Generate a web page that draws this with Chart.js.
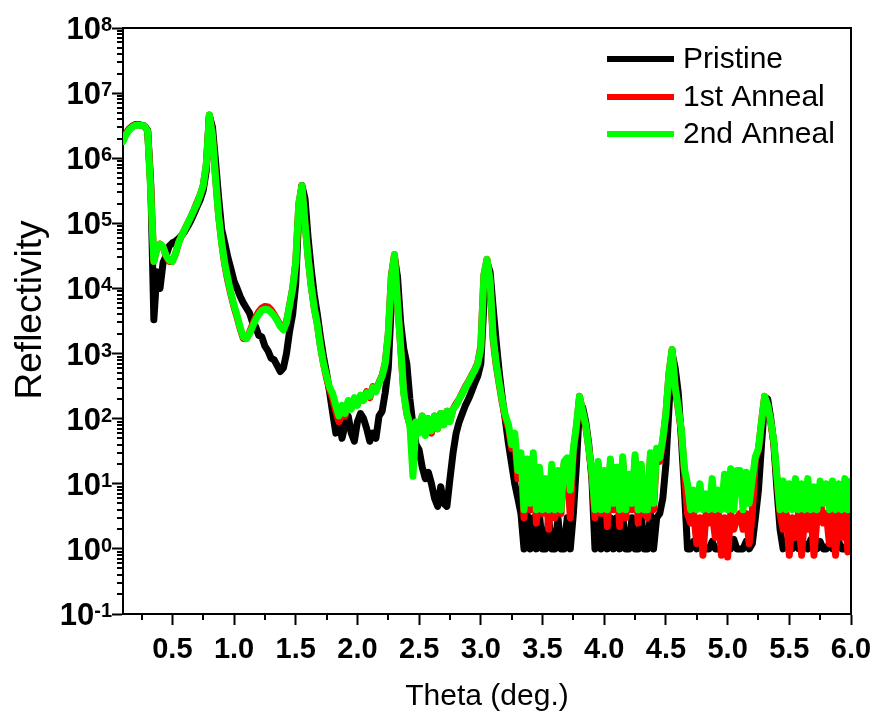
<!DOCTYPE html>
<html><head><meta charset="utf-8">
<script src="https://cdn.jsdelivr.net/npm/chart.js@4.4.1/dist/chart.umd.min.js"></script>
<style>html,body{margin:0;padding:0;background:#fff;}#wrap{width:874px;height:715px;}</style>
</head><body><div id="wrap"><canvas id="c" width="874" height="715"></canvas></div>
<script>
// ---------- data ----------
const theta = [
0.100,0.125,0.150,0.175,0.200,0.225,0.250,0.275,0.300,0.325,
0.350,0.375,0.400,0.425,0.450,0.475,0.500,0.525,0.550,0.575,
0.600,0.625,0.650,0.675,0.700,0.725,0.750,0.775,0.800,0.825,
0.850,0.875,0.900,0.925,0.950,0.975,1.000,1.025,1.050,1.075,
1.100,1.125,1.150,1.175,1.200,1.225,1.250,1.275,1.300,1.325,
1.350,1.375,1.400,1.425,1.450,1.475,1.500,1.525,1.550,1.575,
1.600,1.625,1.650,1.675,1.700,1.725,1.750,1.775,1.800,1.825,
1.850,1.875,1.900,1.925,1.950,1.975,2.000,2.025,2.050,2.075,
2.100,2.125,2.150,2.175,2.200,2.225,2.250,2.275,2.300,2.325,
2.350,2.375,2.400,2.425,2.450,2.475,2.500,2.525,2.550,2.575,
2.600,2.625,2.650,2.675,2.700,2.725,2.750,2.775,2.800,2.825,
2.850,2.875,2.900,2.925,2.950,2.975,3.000,3.025,3.050,3.075,
3.100,3.125,3.150,3.175,3.200,3.225,3.250,3.275,3.300,3.325,
3.350,3.375,3.400,3.425,3.450,3.475,3.500,3.525,3.550,3.575,
3.600,3.625,3.650,3.675,3.700,3.725,3.750,3.775,3.800,3.825,
3.850,3.875,3.900,3.925,3.950,3.975,4.000,4.025,4.050,4.075,
4.100,4.125,4.150,4.175,4.200,4.225,4.250,4.275,4.300,4.325,
4.350,4.375,4.400,4.425,4.450,4.475,4.500,4.525,4.550,4.575,
4.600,4.625,4.650,4.675,4.700,4.725,4.750,4.775,4.800,4.825,
4.850,4.875,4.900,4.925,4.950,4.975,5.000,5.025,5.050,5.075,
5.100,5.125,5.150,5.175,5.200,5.225,5.250,5.275,5.300,5.325,
5.350,5.375,5.400,5.425,5.450,5.475,5.500,5.525,5.550,5.575,
5.600,5.625,5.650,5.675,5.700,5.725,5.750,5.775,5.800,5.825,
5.850,5.875,5.900,5.925,5.950,5.975,6.000];

const pristine = [
1.9e6,2.4e6,2.8e6,3.1e6,3.3e6,3.3e6,3.2e6,3.1e6,2.7e6,4.0e5,
3.3e3,1.8e4,1.0e4,2.5e4,3.2e4,4.5e4,5.0e4,5.3e4,5.8e4,6.5e4,
7.5e4,9.0e4,1.1e5,1.4e5,1.8e5,2.3e5,3.2e5,6.5e5,4.5e6,3.0e6,
9.0e5,2.5e5,8.0e4,5.0e4,3.0e4,2.0e4,1.3e4,1.0e4,7.5e3,6.0e3,
5.0e3,4.2e3,3.0e3,2.6e3,1.9e3,1.8e3,1.3e3,1.1e3,8.5e2,8.0e2,
6.5e2,5.3e2,6.0e2,1.0e3,2.2e3,4.0e3,1.2e4,1.5e5,3.8e5,2.4e5,
6.0e4,2.0e4,8.0e3,4.0e3,1.8e3,9.0e2,5.0e2,2.5e2,1.2e2,6.0e1,
9.0e1,5.0e1,8.0e1,1.1e2,6.0e1,4.5e1,9.0e1,1.2e2,1.0e2,7.0e1,
4.5e1,6.0e1,5.0e1,1.1e2,1.3e2,2.5e2,6.0e2,6.0e3,3.0e4,1.5e4,
3.0e3,1.2e3,7.0e2,2.0e2,8.0e1,4.0e1,3.3e1,1.8e1,1.2e1,1.5e1,
1.0e1,6.0,4.5,9.0,5.0,4.5,1.2e1,3.0e1,6.0e1,9.0e1,
1.2e2,1.6e2,2.0e2,2.6e2,3.5e2,4.5e2,7.0e2,6.0e3,2.5e4,1.8e4,
5.0e3,1.5e3,5.0e2,2.0e2,9.0e1,4.0e1,2.0e1,1.0e1,6.0,3.5,
1.0,3.5,1.0,3.0,1.0,3.5,1.0,1.0,3.0,1.0,
1.0,3.0,1.0,1.0,3.0,1.0,3.5,2.0e1,1.6e2,1.5e2,
9.0e1,4.0e1,1.2e1,1.0,3.5,1.0,3.0,1.0,3.0,1.0,
3.0,1.0,3.5,1.0,1.0,3.0,1.0,1.0,3.5,1.0,
1.0,3.5,1.0,3.0,3.5,6.0,2.0e1,1.5e2,1.0e3,6.0e2,
2.5e2,5.0e1,8.0,1.0,1.0,1.3,1.0,1.2,1.0,1.0,
1.0,1.3,1.0,1.0,1.0,1.2,1.0,1.0,1.4,1.0,
1.0,1.0,1.3,1.0,1.2,3.0,8.0,4.0e1,1.8e2,2.0e2,
1.0e2,4.0e1,8.0,2.0,1.0,1.2,1.0,1.0,1.3,1.0,
1.0,1.2,1.0,1.4,1.0,1.0,1.3,1.0,1.0,1.2,
1.0,1.0,1.3,1.0,1.0,1.2,1.0];

const anneal1 = [
1.9e6,2.4e6,2.8e6,3.1e6,3.2e6,3.3e6,3.2e6,3.1e6,2.6e6,3.5e5,
2.6e4,4.2e4,4.8e4,4.3e4,3.1e4,2.6e4,2.6e4,3.4e4,5.0e4,6.5e4,
8.0e4,1.0e5,1.25e5,1.6e5,2.1e5,2.7e5,3.8e5,8.0e5,4.6e6,2.3e6,
5.0e5,1.3e5,5.0e4,2.3e4,1.3e4,8.0e3,5.2e3,3.6e3,2.4e3,1.7e3,
1.7e3,2.1e3,2.8e3,3.6e3,4.4e3,5.0e3,5.3e3,5.2e3,4.7e3,4.0e3,
3.3e3,2.7e3,2.4e3,3.1e3,5.5e3,1.0e4,2.5e4,2.0e5,3.8e5,1.0e5,
3.0e4,1.1e4,5.0e3,2.8e3,1.3e3,7.0e2,4.2e2,2.8e2,2.0e2,1.3e2,
9.0e1,1.5e2,1.1e2,1.8e2,1.5e2,2.0e2,1.7e2,2.2e2,2.0e2,2.6e2,
2.1e2,3.1e2,2.7e2,3.6e2,4.6e2,7.2e2,2.0e3,1.6e4,3.3e4,6.0e3,
1.3e3,2.6e2,1.2e2,8.0e1,5.0e1,8.0e1,6.5e1,1.1e2,6.0e1,1.0e2,
6.0e1,1.1e2,7.0e1,1.2e2,8.5e1,1.3e2,9.5e1,1.4e2,1.7e2,2.0e2,
2.5e2,3.1e2,3.7e2,4.6e2,5.6e2,7.2e2,1.3e3,1.6e4,2.8e4,1.2e4,
1.6e3,6.5e2,3.3e2,1.7e2,1.0e2,7.0e1,3.5e1,5.0e1,1.2e1,2.5e1,
3.0,2.0e1,4.0,2.4e1,2.5,1.6e1,3.5,1.0e1,2.0,1.6e1,
3.0,1.4e1,3.5,2.0e1,2.2e1,3.0,3.2e1,7.5e1,2.2e2,1.3e2,
7.5e1,3.5e1,1.4e1,3.0,2.0e1,3.5,1.4e1,2.2,2.0e1,4.0,
1.6e1,2.2,2.2e1,3.0,1.2e1,4.0,2.4e1,2.5,1.8e1,3.5,
3.0,2.8e1,4.0,3.2e1,2.2e1,4.5e1,1.2e2,5.0e2,1.15e3,3.0e2,
1.4e2,6.5e1,1.5e1,3.5,2.5,3.5,1.2,3.0,0.8,3.5,
2.5,3.5,1.5,3.5,0.8,3.0,0.75,3.5,2.0,3.0,
3.5,2.0,3.5,1.2,3.5,2.4e1,3.3e1,9.0e1,2.2e2,1.6e2,
8.5e1,4.2e1,1.2e1,3.5,2.0,3.5,0.8,3.0,1.5,3.5,
0.8,3.5,2.0,3.5,0.8,3.0,6.0,2.5,3.5,1.2,
3.5,0.8,3.5,1.5,3.5,0.9,3.5];

const anneal2 = [
1.8e6,2.3e6,2.7e6,3.0e6,3.2e6,3.2e6,3.2e6,3.1e6,2.6e6,3.0e5,
2.6e4,4.2e4,4.8e4,4.3e4,3.2e4,2.7e4,2.6e4,3.4e4,5.0e4,6.5e4,
8.0e4,1.0e5,1.25e5,1.6e5,2.0e5,2.7e5,3.8e5,8.0e5,4.6e6,2.2e6,
5.0e5,1.3e5,5.0e4,2.4e4,1.4e4,8.5e3,5.5e3,3.8e3,2.5e3,1.8e3,
1.7e3,2.0e3,2.6e3,3.3e3,4.0e3,4.6e3,4.8e3,4.7e3,4.3e3,3.8e3,
3.2e3,2.6e3,2.3e3,3.0e3,5.5e3,1.0e4,2.5e4,2.0e5,3.8e5,1.0e5,
3.0e4,1.1e4,5.0e3,2.8e3,1.3e3,7.0e2,4.5e2,3.0e2,2.4e2,1.6e2,
1.1e2,1.6e2,1.2e2,1.9e2,1.4e2,2.1e2,1.6e2,2.3e2,1.9e2,2.5e2,
2.2e2,3.0e2,2.6e2,3.5e2,4.5e2,7.0e2,2.0e3,1.5e4,3.3e4,6.0e3,
1.3e3,2.5e2,1.2e2,8.0e1,1.3e1,9.0e1,6.0e1,1.1e2,5.5e1,1.0e2,
6.5e1,1.1e2,7.0e1,1.2e2,8.0e1,1.3e2,9.0e1,1.4e2,1.6e2,2.0e2,
2.4e2,3.0e2,3.6e2,4.5e2,5.5e2,7.0e2,1.2e3,1.6e4,2.8e4,1.3e4,
1.8e3,7.0e2,3.5e2,1.8e2,1.1e2,8.0e1,4.0e1,6.0e1,1.6e1,3.0e1,
4.0,2.4e1,5.0,3.0e1,4.0,1.8e1,4.0,1.2e1,4.0,2.0e1,
4.0,1.6e1,4.0,2.2e1,2.5e1,8.0,3.5e1,8.0e1,2.2e2,1.3e2,
8.0e1,3.5e1,1.5e1,4.0,2.2e1,4.0,1.6e1,4.0,2.4e1,5.0,
1.8e1,4.0,2.6e1,4.0,1.4e1,5.0,2.8e1,4.0,2.0e1,4.0,
4.0,3.0e1,5.0,3.5e1,2.5e1,5.0e1,1.2e2,5.0e2,1.15e3,3.0e2,
1.5e2,6.8e1,1.7e1,1.0e1,4.0,8.0,4.0,1.0e1,4.0,7.0,
4.0,1.2e1,4.0,8.0,4.0,1.4e1,4.0,1.7e1,4.0,1.6e1,
1.6e1,4.0,1.5e1,5.0,1.2e1,2.6e1,3.5e1,9.0e1,2.2e2,1.6e2,
9.0e1,4.5e1,1.3e1,4.0,1.1e1,4.0,1.0e1,4.0,1.2e1,4.0,
1.0e1,4.0,1.2e1,4.0,9.0,4.0,1.1e1,5.0,1.0e1,4.0,
1.1e1,4.0,1.0e1,4.0,1.2e1,4.0,1.1e1];

const seriesNames = ['Pristine', '1st Anneal', '2nd Anneal'];
const seriesColors = ['#000000', '#ff0000', '#00ff00'];

const xMajorTicks = [0.5,1.0,1.5,2.0,2.5,3.0,3.5,4.0,4.5,5.0,5.5,6.0];
const xMinorTicks = [0.25,0.75,1.25,1.75,2.25,2.75,3.25,3.75,4.25,4.75,5.25,5.75];
const yDecadeTicks = [0.1,1,10,100,1e3,1e4,1e5,1e6,1e7,1e8];
const yDecadeLabels = [['10','-1'],['10','0'],['10','1'],['10','2'],['10','3'],['10','4'],['10','5'],['10','6'],['10','7'],['10','8']];
const yMinorMultipliers = [2,3,4,5,6,7,8,9];
const xTitle = 'Theta (deg.)';
const yTitle = 'Reflectivity';

// ---------- chart ----------
const FONT = '"Liberation Sans", Arial, Helvetica, sans-serif';
Chart.defaults.font.family = FONT;
Chart.defaults.color = '#000';

const series = [pristine, anneal1, anneal2];
const drawOrder = [2, 1, 0];

const decor = {
  id: 'decor',
  afterDraw(chart) {
    const {ctx, chartArea: a, scales} = chart;
    const xs = scales.x, ys = scales.y;
    ctx.save();
    ctx.strokeStyle = '#000';
    ctx.lineWidth = 2;
    ctx.lineCap = 'butt';
    // frame top & right
    ctx.beginPath();
    ctx.moveTo(a.left, a.top); ctx.lineTo(a.right, a.top); ctx.lineTo(a.right, a.bottom);
    ctx.stroke();
    // minor ticks
    ctx.beginPath();
    xMinorTicks.forEach(v => {
      const px = Math.round(xs.getPixelForValue(v));
      ctx.moveTo(px, a.bottom); ctx.lineTo(px, a.bottom + 6);
    });
    yDecadeTicks.slice(0, -1).forEach(d => {
      yMinorMultipliers.forEach(m => {
        const py = Math.round(ys.getPixelForValue(d * m));
        ctx.moveTo(a.left, py); ctx.lineTo(a.left - 6, py);
      });
    });
    ctx.stroke();
    // y tick labels with superscripts
    ctx.fillStyle = '#000';
    ctx.textAlign = 'right';
    ctx.textBaseline = 'alphabetic';
    yDecadeTicks.forEach((v, i) => {
      const py = ys.getPixelForValue(v);
      const [base, ex] = yDecadeLabels[i];
      ctx.font = 'bold 20px ' + FONT;
      const ew = ctx.measureText(ex).width;
      ctx.fillText(ex, 112, py + 3);
      ctx.font = 'bold 31px ' + FONT;
      ctx.fillText(base, 112 - ew, py + 11);
    });
    // y title
    ctx.save();
    ctx.translate(41, 310);
    ctx.rotate(-Math.PI / 2);
    ctx.textAlign = 'center';
    ctx.textBaseline = 'alphabetic';
    ctx.font = '37px ' + FONT;
    ctx.fillText(yTitle, 0, 0);
    ctx.restore();
    // legend
    const rows = [59, 97, 134];
    chart.data.datasets.forEach((ds, i) => {
      ctx.beginPath();
      ctx.strokeStyle = ds.borderColor;
      ctx.lineWidth = 6;
      ctx.moveTo(607, rows[i]); ctx.lineTo(674, rows[i]);
      ctx.stroke();
      ctx.fillStyle = '#000';
      ctx.textAlign = 'left';
      ctx.textBaseline = 'middle';
      ctx.font = '30px ' + FONT;
      ctx.fillText(ds.label, 683, rows[i] + 1);
    });
    ctx.restore();
  }
};

new Chart(document.getElementById('c'), {
  type: 'line',
  data: {
    datasets: series.map((s, i) => ({
      label: seriesNames[i],
      data: s.map((v, j) => ({x: theta[j], y: v})),
      borderColor: seriesColors[i],
      backgroundColor: seriesColors[i],
      order: drawOrder[i],
      fill: false
    }))
  },
  options: {
    responsive: false,
    animation: false,
    devicePixelRatio: 1,
    layout: {padding: {top: 28, right: 23, left: 0, bottom: 0}},
    plugins: {legend: {display: false}, tooltip: {enabled: false}},
    elements: {
      point: {radius: 0},
      line: {borderWidth: 7, tension: 0, borderJoinStyle: 'round', borderCapStyle: 'round'}
    },
    scales: {
      x: {
        type: 'linear', min: 0.1, max: 6.0,
        afterBuildTicks: s => { s.ticks = xMajorTicks.map(v => ({value: v})); },
        afterFit: s => { s.height = 101; },
        grid: {display: true, drawOnChartArea: false, drawTicks: true, tickLength: 11, tickWidth: 2, tickColor: '#000'},
        border: {display: true, color: '#000', width: 2},
        ticks: {color: '#000', font: {size: 29, weight: 'bold', lineHeight: 1.6}, padding: 2, maxRotation: 0, autoSkip: false,
                callback: v => Number(v).toFixed(1)},
        title: {display: true, text: xTitle, color: '#000', font: {size: 30}, padding: {top: 0, bottom: 0}}
      },
      y: {
        type: 'logarithmic', min: 0.1, max: 1e8,
        afterBuildTicks: s => { s.ticks = yDecadeTicks.map(v => ({value: v})); },
        afterFit: s => { s.width = 123; },
        grid: {display: true, drawOnChartArea: false, drawTicks: true, tickLength: 11, tickWidth: 2, tickColor: '#000'},
        border: {display: true, color: '#000', width: 2},
        ticks: {display: false},
        title: {display: false}
      }
    }
  },
  plugins: [decor]
});
</script></body></html>
